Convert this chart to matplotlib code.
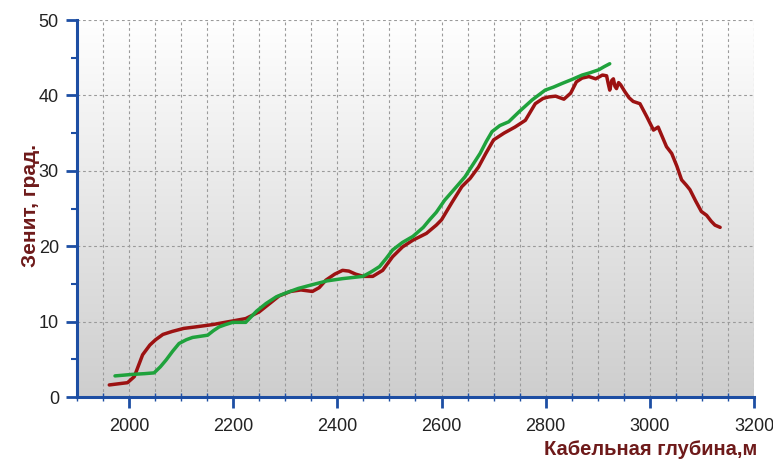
import numpy as np
import matplotlib
matplotlib.use("Agg")
import matplotlib.pyplot as plt
from matplotlib.colors import LinearSegmentedColormap
from matplotlib.ticker import MultipleLocator


# depth (m) / zenith (deg)
RED_DEPTH = [
    1962, 1985, 1997, 2010, 2026, 2040, 2051, 2065, 2083, 2105, 2128, 2160,
    2192, 2224, 2250, 2270, 2288, 2310, 2330, 2352, 2365, 2378, 2395, 2410,
    2422, 2435, 2450, 2468, 2487, 2506, 2525, 2545, 2571, 2590, 2600, 2620,
    2639, 2655, 2671, 2685, 2700, 2720, 2741, 2761, 2780, 2795, 2806, 2819,
    2835, 2848, 2859, 2870, 2883, 2896, 2909, 2917, 2920, 2923, 2927, 2930,
    2933, 2936, 2940, 2944, 2952, 2960, 2968, 2981, 2994, 3007, 3016, 3024,
    3032, 3042, 3052, 3061, 3070, 3077, 3088, 3099, 3109, 3118, 3125, 3135
]
RED_ZENITH = [
    1.6, 1.8, 1.9, 2.7, 5.6, 6.9, 7.6, 8.3, 8.7, 9.1, 9.3, 9.6,
    10.0, 10.4, 11.3, 12.4, 13.4, 14.0, 14.2, 14.0, 14.5, 15.5, 16.3, 16.8,
    16.7, 16.3, 16.0, 16.0, 16.8, 18.6, 19.9, 20.8, 21.7, 22.8, 23.5, 25.8,
    27.9, 29.0, 30.5, 32.3, 34.1, 35.0, 35.8, 36.7, 38.9, 39.6, 39.8, 39.9,
    39.5, 40.3, 41.8, 42.3, 42.5, 42.2, 42.7, 42.6, 41.6, 40.7, 42.0, 42.2,
    41.2, 40.9, 41.7, 41.4, 40.5, 39.7, 39.2, 38.9, 37.2, 35.4, 35.8, 34.5,
    33.2, 32.3, 30.6, 28.8, 28.1, 27.5, 26.0, 24.6, 24.1, 23.3, 22.8, 22.5
]

GREEN_DEPTH = [
    1973, 1990, 2006, 2030, 2048, 2060, 2071, 2084, 2096, 2110, 2122, 2151,
    2162, 2173, 2185, 2199, 2224, 2245, 2263, 2283, 2301, 2325, 2352, 2380,
    2410, 2449, 2465, 2481, 2494, 2506, 2525, 2545, 2565, 2577, 2590, 2606,
    2625, 2645, 2660, 2674, 2686, 2697, 2712, 2729, 2750, 2774, 2799, 2815,
    2832, 2850, 2870, 2885, 2902, 2912, 2923
]
GREEN_ZENITH = [
    2.8, 2.9, 3.0, 3.1, 3.2, 4.0, 4.9, 6.1, 7.1, 7.6, 7.9, 8.2,
    8.8, 9.3, 9.6, 9.9, 9.9, 11.4, 12.4, 13.3, 13.8, 14.4, 14.9, 15.4,
    15.7, 16.0, 16.6, 17.3, 18.4, 19.5, 20.5, 21.3, 22.5, 23.5, 24.5, 26.1,
    27.6, 29.2, 30.8, 32.3, 33.9, 35.2, 36.0, 36.5, 37.9, 39.4, 40.7, 41.1,
    41.6, 42.1, 42.7, 43.0, 43.4, 43.8, 44.2
]

X_TICKS = [2000, 2200, 2400, 2600, 2800, 3000, 3200]
Y_TICKS = [0, 10, 20, 30, 40, 50]

AXIS_BLUE = "#1d4ea3"
LABEL_RED = "#6e1a1a"

plt.rcParams["font.family"] = ["Liberation Sans", "DejaVu Sans"]

fig = plt.figure(figsize=(7.73, 4.61), dpi=100)
ax = fig.add_axes([0.0996, 0.1388, 0.8758, 0.8178])

# vertical white -> gray gradient behind the plot
grad = np.linspace(1.0, 0.0, 256).reshape(-1, 1)
ax.imshow(grad, extent=[0, 1, 0, 1], transform=ax.transAxes, aspect="auto",
          cmap=LinearSegmentedColormap.from_list("bg", ["#cecece", "#ffffff"]),
          zorder=0)

ax.plot(RED_DEPTH, RED_ZENITH, color="#9c1212", lw=2.5,
        solid_joinstyle="round", solid_capstyle="round", zorder=3)
ax.plot(GREEN_DEPTH, GREEN_ZENITH, color="#1fa23c", lw=2.5,
        solid_joinstyle="round", solid_capstyle="round", zorder=4)

ax.set_xlim(1900, 3200)
ax.set_ylim(0, 50)
ax.set_xticks(X_TICKS)
ax.set_yticks(Y_TICKS)
ax.xaxis.set_minor_locator(MultipleLocator(50))
ax.yaxis.set_minor_locator(MultipleLocator(5))

grid_style = dict(color="#9a9a9a", ls=(0, (2.5, 2.5)), lw=0.8)
ax.grid(True, which="both", axis="x", **grid_style)
ax.grid(True, which="major", axis="y", **grid_style)
ax.set_axisbelow(True)

for side in ["top", "right"]:
    ax.spines[side].set_visible(False)
for side in ["left", "bottom"]:
    ax.spines[side].set_color(AXIS_BLUE)
    ax.spines[side].set_linewidth(2.2)

ax.tick_params(axis="both", which="major", colors=AXIS_BLUE, width=2,
               length=8, direction="out", labelcolor="#222222",
               labelsize=13)
ax.tick_params(axis="x", which="major", pad=7)
ax.tick_params(axis="y", which="major", pad=5)
ax.tick_params(axis="x", which="minor", colors=AXIS_BLUE, width=1,
               length=6, direction="inout")
ax.tick_params(axis="y", which="minor", colors=AXIS_BLUE, width=1.5,
               length=4, direction="out")

fig.text(0.039, 0.555, "Зенит, град.", rotation=90, ha="center", va="center",
         fontsize=15, fontweight="bold", color=LABEL_RED)
fig.text(0.979, 0.024, "Кабельная глубина,м", ha="right", va="center",
         fontsize=14.5, fontweight="bold", color=LABEL_RED)

fig.savefig("out.png", dpi=100)
